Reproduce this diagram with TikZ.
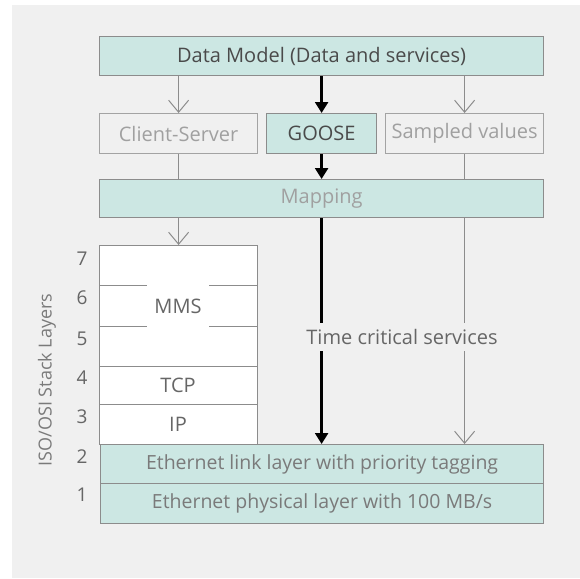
\documentclass[tikz,border=0pt]{standalone}
\usepackage{fontspec}
\setmainfont{Open Sans}
\usetikzlibrary{arrows.meta}
\definecolor{pagebg}{HTML}{F0F0F0}
\definecolor{tealfill}{HTML}{CCE7E3}
\definecolor{edge}{HTML}{8C8C8C}
\definecolor{darktext}{HTML}{4A4A4A}
\definecolor{midtext}{HTML}{666666}
\definecolor{palettext}{HTML}{A0A0A0}
\definecolor{ethtext}{HTML}{7A7A7A}
\tikzset{
  tealbox/.style={draw=edge, line width=1.2pt, fill=tealfill, inner sep=0pt, anchor=north west},
  greybox/.style={draw=edge!80, line width=1.2pt, fill=pagebg, inner sep=0pt, anchor=north west},
  thinflow/.style={draw=edge, line width=1pt, -{Straight Barb[length=12pt,width=20pt]}},
  thinline/.style={draw=edge, line width=1pt},
  boldflow/.style={draw=black, line width=2.4pt, -{Triangle[length=11pt,width=13pt]}},
  bigfont/.style={font=\fontsize{20}{20}\selectfont},
  layernum/.style={text=midtext, font=\fontsize{19}{19}\selectfont},
  stacktxt/.style={text=midtext, bigfont},
}
\begin{document}
\begin{tikzpicture}[x=1pt, y=-1pt]
  \useasboundingbox (0,0) rectangle (580,578);
  \fill[white] (0,0) rectangle (580,578);
  \fill[pagebg] (12,5) rectangle (580,578);

  % upper service blocks
  \node[tealbox, minimum width=444pt, minimum height=39pt, text=darktext, bigfont]
        (dm) at (99,36) {Data Model (Data and services)};
  \node[greybox, minimum width=158pt, minimum height=40pt, text=palettext, bigfont]
        (cs) at (99,113) {Client-Server};
  \node[tealbox, minimum width=110pt, minimum height=40pt, text=darktext, bigfont]
        (goose) at (266,113) {GOOSE};
  \node[greybox, minimum width=158pt, minimum height=40pt, text=palettext, bigfont]
        (sv) at (385,113) {Sampled values};
  \node[tealbox, minimum width=444pt, minimum height=38pt, text=palettext, bigfont]
        (map) at (99,179) {Mapping};

  % ISO/OSI stack
  \node[draw=edge, line width=1.2pt, fill=white, minimum width=158pt, minimum height=199pt,
        inner sep=0pt, anchor=north west] (stack) at (99,245) {};
  \coordinate (l6) at (99,285);
  \coordinate (l5) at (99,326);
  \coordinate (l4) at (99,366);
  \coordinate (l3) at (99,404);
  \draw[edge, line width=1pt] (l6) -- ++(48,0) (l6) ++(110,0) -- ++(48,0);
  \draw[edge, line width=1pt] (l5) -- ++(48,0) (l5) ++(110,0) -- ++(48,0);
  \draw[edge, line width=1pt] (l4) -- ++(158,0);
  \draw[edge, line width=1pt] (l3) -- ++(158,0);
  \node[stacktxt] (mms) at (178,306) {MMS};
  \node[stacktxt] (tcp) at (178,385) {TCP};
  \node[stacktxt] (ip) at (178,424) {IP};

  \node[tealbox, minimum width=443pt, minimum height=39pt, text=ethtext,
        font=\fontsize{19.5}{19.5}\selectfont] (eth2) at (100,444) {Ethernet link layer with priority tagging};
  \node[tealbox, minimum width=443pt, minimum height=40pt, text=ethtext,
        font=\fontsize{19.5}{19.5}\selectfont] (eth1) at (100,483) {Ethernet physical layer with 100 MB/s};

  % layer numbers and axis label
  \node[layernum] (n7) at (82,259) {7};
  \node[layernum] (n6) at (82,298) {6};
  \node[layernum] (n5) at (82,339) {5};
  \node[layernum] (n4) at (82,378) {4};
  \node[layernum] (n3) at (82,417) {3};
  \node[layernum] (n2) at (82,457) {2};
  \node[layernum] (n1) at (82,495) {1};
  \node[rotate=90, text=ethtext, font=\fontsize{18}{18}\selectfont] (axis) at (47,380) {ISO/OSI Stack Layers};

  % flows from the data model down to the services
  \draw[thinflow] (dm.south -| cs) -- (cs.north);
  \draw[boldflow] (dm.south -| goose) -- (goose.north);
  \draw[thinflow] (dm.south -| sv) -- (sv.north);
  % services into the mapping
  \draw[thinline] (cs.south) -- (cs.south |- map.north);
  \draw[boldflow] (goose.south) -- (goose.south |- map.north);
  \draw[thinline] (sv.south) -- (sv.south |- map.north);
  % mapping down to the stack and the link layer
  \draw[thinflow] (map.south -| cs) -- (stack.north -| cs);
  \draw[boldflow] (map.south -| goose) -- (eth2.north -| goose);
  \draw[thinflow] (map.south -| sv) -- (eth2.north -| sv);
  \node[fill=pagebg, text=midtext, inner xsep=1pt, inner ysep=6pt, bigfont]
        (tcs) at (402,337) {Time critical services};
\end{tikzpicture}
\end{document}
